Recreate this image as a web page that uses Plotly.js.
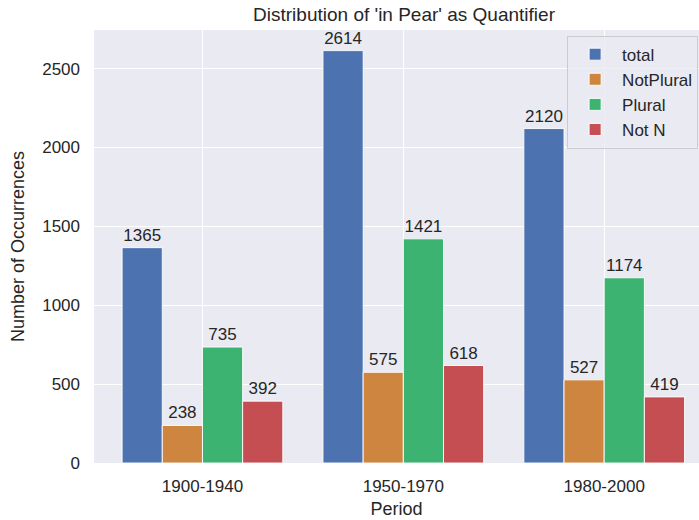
<!DOCTYPE html>
<html>
<head>
<meta charset="utf-8">
<script src="https://cdn.plot.ly/plotly-3.0.1.min.js"></script>
<style>html,body{margin:0;padding:0;background:#fff;}#chart{width:699px;height:520px;}</style>
</head>
<body>
<div id="chart"></div>
<script>
const periods = ['1900-1940', '1950-1970', '1980-2000'];
const seriesNames = ['total', 'NotPlural', 'Plural', 'Not N'];
const total = [1365, 2614, 2120];
const notPlural = [238, 575, 527];
const plural = [735, 1421, 1174];
const notN = [392, 618, 419];
const colors = ['#4C72B0', '#CD853F', '#3CB371', '#C44E52'];
const yTicks = [0, 500, 1000, 1500, 2000, 2500];

const seriesValues = [total, notPlural, plural, notN];
const xIdx = periods.map((p, i) => i);

const traces = seriesValues.map((vals, k) => ({
  type: 'bar',
  name: seriesNames[k],
  x: xIdx,
  y: vals,
  text: vals.map(String),
  textposition: 'outside',
  cliponaxis: false,
  textfont: {family: 'Liberation Sans, Arial, sans-serif', size: 17, color: '#262626'},
  marker: {color: colors[k], line: {color: 'rgba(255,255,255,0.9)', width: 1}},
  legendgroup: 'g' + k,
  hoverinfo: 'none'
}));

const layout = {
  width: 699, height: 520,
  margin: {l: 94, r: 0, t: 30, b: 57},
  paper_bgcolor: '#FFFFFF',
  plot_bgcolor: '#EAEAF2',
  font: {family: 'Liberation Sans, Arial, sans-serif', size: 17, color: '#262626'},
  title: {text: "Distribution of 'in Pear' as Quantifier", x: 0.578, xanchor: 'center', y: 0.972, yanchor: 'middle', font: {size: 19, color: '#262626'}},
  barmode: 'group', bargap: 0.2, bargroupgap: 0,
  xaxis: {
    range: [-0.54, 2.472],
    tickmode: 'array', tickvals: xIdx, ticktext: periods,
    showgrid: true, gridcolor: '#FFFFFF', gridwidth: 1,
    zeroline: false, showline: false, ticks: '',
    ticklabelstandoff: 11,
    tickfont: {size: 17},
    title: {text: 'Period', font: {size: 18}, standoff: 7}
  },
  yaxis: {
    range: [0, 2744.7],
    tickmode: 'array', tickvals: yTicks,
    showgrid: true, gridcolor: '#FFFFFF', gridwidth: 1,
    zeroline: false, showline: false, ticks: '',
    ticklabelstandoff: 13,
    tickfont: {size: 17},
    title: {text: 'Number of Occurrences', font: {size: 18}, standoff: 12}
  },
  showlegend: true,
  legend: {
    x: 0.782, y: 0.987, xanchor: 'left', yanchor: 'top',
    bgcolor: 'rgba(234,234,242,0.8)', bordercolor: '#CCCCCC', borderwidth: 1,
    font: {size: 17, color: '#262626'},
    itemwidth: 44,
    tracegroupgap: 2, traceorder: 'normal'
  }
};

Plotly.newPlot('chart', traces, layout, {staticPlot: true, displayModeBar: false});
</script>
</body>
</html>
